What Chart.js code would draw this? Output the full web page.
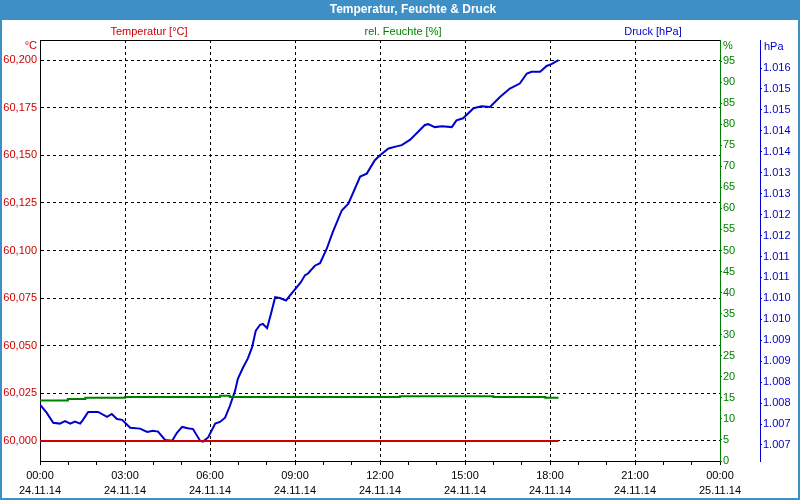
<!DOCTYPE html>
<html>
<head>
<meta charset="utf-8">
<script src="https://cdn.jsdelivr.net/npm/chart.js@4/dist/chart.umd.min.js"></script>
<style>
  html, body { margin: 0; padding: 0; background: #fff; }
  #wrap { width: 800px; height: 500px; position: relative; }
</style>
</head>
<body>
<div id="wrap"><canvas id="chart" width="800" height="500"></canvas></div>
<script>
// x-Achse (Beschriftung alle 3 Stunden)
const xTickTimes = ['00:00', '03:00', '06:00', '09:00', '12:00', '15:00', '18:00', '21:00', '00:00'];
const xTickDates = ['24.11.14', '24.11.14', '24.11.14', '24.11.14', '24.11.14', '24.11.14', '24.11.14', '24.11.14', '25.11.14'];

// Achsen-Ticks
const tempTicks = [60.000, 60.025, 60.050, 60.075, 60.100, 60.125, 60.150, 60.175, 60.200];
const humTicks = [0, 5, 10, 15, 20, 25, 30, 35, 40, 45, 50, 55, 60, 65, 70, 75, 80, 85, 90, 95];
const presTicks = [1006.75, 1007.25, 1007.75, 1008.25, 1008.75, 1009.25, 1009.75, 1010.25, 1010.75,
  1011.25, 1011.75, 1012.25, 1012.75, 1013.25, 1013.75, 1014.25, 1014.75, 1015.25, 1015.75];

// Temperatur [°C]
const tempTimes = ['00:00', '18:18'];
const tempValues = [60.000, 60.000];

// rel. Feuchte [%]
const humTimes = ['00:00', '00:59', '01:36', '03:00', '06:21', '06:42', '12:42', '16:00', '17:50', '18:18'];
const humValues = [14.4, 14.7, 15.0, 15.2, 15.5, 15.2, 15.4, 15.2, 15.0, 15.0];

// Druck [hPa]
const presTimes = ['00:00', '00:14', '00:28', '00:42', '00:53', '01:04', '01:14', '01:25', '01:31', '01:42',
  '02:03', '02:22', '02:32', '02:43', '02:54', '03:11', '03:32', '03:47', '03:59', '04:10',
  '04:25', '04:40', '04:50', '05:01', '05:13', '05:24', '05:39', '05:45', '05:56', '06:11',
  '06:21', '06:32', '06:42', '06:53', '06:59', '07:10', '07:20', '07:29', '07:37', '07:46',
  '07:52', '08:01', '08:09', '08:18', '08:28', '08:41', '08:53', '09:12', '09:21', '09:28',
  '09:42', '09:53', '10:07', '10:20', '10:39', '10:53', '11:18', '11:32', '11:49', '12:00',
  '12:18', '12:35', '12:46', '13:04', '13:35', '13:42', '13:56', '14:11', '14:32', '14:42',
  '14:56', '15:18', '15:35', '15:53', '16:14', '16:35', '16:56', '17:11', '17:21', '17:39',
  '17:53', '18:04', '18:18'];
const presValues = [1007.71, 1007.52, 1007.28, 1007.26, 1007.32, 1007.26, 1007.31, 1007.26, 1007.35, 1007.54,
  1007.54, 1007.42, 1007.49, 1007.37, 1007.35, 1007.16, 1007.14, 1007.06, 1007.09, 1007.07,
  1006.87, 1006.85, 1007.04, 1007.18, 1007.15, 1007.13, 1006.85, 1006.83, 1006.93, 1007.26,
  1007.30, 1007.40, 1007.68, 1008.04, 1008.33, 1008.60, 1008.81, 1009.08, 1009.48, 1009.62,
  1009.64, 1009.54, 1009.88, 1010.28, 1010.26, 1010.20, 1010.37, 1010.63, 1010.80, 1010.85,
  1011.03, 1011.09, 1011.43, 1011.83, 1012.35, 1012.51, 1013.16, 1013.23, 1013.55, 1013.67,
  1013.83, 1013.88, 1013.91, 1014.04, 1014.39, 1014.41, 1014.34, 1014.36, 1014.34, 1014.50,
  1014.55, 1014.79, 1014.84, 1014.82, 1015.06, 1015.26, 1015.38, 1015.62, 1015.66, 1015.66,
  1015.80, 1015.85, 1015.94];

const RED = '#cc0000', GREEN = '#008000', BLUE = '#0000cc', BAR = '#3d8fc6';
const FONT = 'Liberation Sans';

function toHours(t) {
  const [h, m] = t.split(':').map(Number);
  return h + m / 60;
}
function points(times, values) {
  return times.map((t, i) => ({ x: toHours(t), y: values[i] }));
}

Chart.defaults.font.family = FONT;
Chart.defaults.font.size = 11;

// Rahmen, Titelleiste und Beschriftungen
const decor = {
  id: 'decor',
  beforeDraw(chart) {
    const c = chart.ctx;
    c.save();
    c.fillStyle = '#fff';
    c.fillRect(0, 0, 800, 500);
    c.fillStyle = BAR;
    c.fillRect(0, 0, 800, 20);
    c.fillRect(0, 0, 2, 500);
    c.fillRect(798, 0, 2, 500);
    c.fillRect(0, 498, 800, 2);
    c.textBaseline = 'middle';
    c.textAlign = 'center';
    c.fillStyle = '#fff';
    c.font = 'bold 12px ' + FONT;
    c.fillText('Temperatur, Feuchte & Druck', 413, 10);
    c.font = '11px ' + FONT;
    c.fillStyle = RED;
    c.fillText('Temperatur [°C]', 149, 32);
    c.fillStyle = GREEN;
    c.fillText('rel. Feuchte [%]', 403, 32);
    c.fillStyle = BLUE;
    c.fillText('Druck [hPa]', 653, 32);
    c.textAlign = 'right';
    c.fillStyle = RED;
    c.fillText('°C', 37, 46);
    c.textAlign = 'left';
    c.fillStyle = GREEN;
    c.fillText('%', 723, 46);
    c.fillStyle = BLUE;
    c.fillText('hPa', 764, 47);
    c.restore();
  },
  afterDraw(chart) {
    const a = chart.chartArea, c = chart.ctx;
    c.save();
    c.strokeStyle = '#000';
    c.lineWidth = 1;
    c.beginPath();
    c.moveTo(a.left, a.top + 0.5);
    c.lineTo(a.right, a.top + 0.5);
    c.stroke();
    c.restore();
  }
};

new Chart(document.getElementById('chart'), {
  type: 'line',
  data: {
    datasets: [
      {
        label: 'Temperatur [°C]',
        data: points(tempTimes, tempValues),
        borderColor: RED,
        backgroundColor: RED,
        borderWidth: 2,
        pointRadius: 0,
        yAxisID: 'yT'
      },
      {
        label: 'rel. Feuchte [%]',
        data: points(humTimes, humValues),
        borderColor: GREEN,
        backgroundColor: GREEN,
        borderWidth: 2,
        pointRadius: 0,
        stepped: true,
        yAxisID: 'yH'
      },
      {
        label: 'Druck [hPa]',
        data: points(presTimes, presValues),
        borderColor: BLUE,
        backgroundColor: BLUE,
        borderWidth: 2,
        pointRadius: 0,
        tension: 0,
        yAxisID: 'yP'
      }
    ]
  },
  options: {
    responsive: false,
    animation: false,
    layout: { padding: { top: 40, left: 0, right: 0, bottom: 0 } },
    plugins: {
      legend: { display: false },
      title: { display: false },
      tooltip: { enabled: false }
    },
    scales: {
      x: {
        type: 'linear',
        position: 'bottom',
        min: 0,
        max: 24,
        afterFit: s => { s.height = 39; },
        ticks: {
          stepSize: 1,
          autoSkip: false,
          maxRotation: 0,
          color: '#000',
          padding: 3,
          font: { lineHeight: 15 / 11 },
          callback: v => (v % 3 === 0 ? [xTickTimes[v / 3], xTickDates[v / 3]] : '')
        },
        grid: {
          color: c => (c.tick && c.tick.value % 3 === 0 && c.tick.value > 0 && c.tick.value < 24 ? '#000' : 'rgba(0,0,0,0)'),
          tickColor: '#000',
          tickLength: 4,
          lineWidth: 1
        },
        border: { color: '#000', width: 1, dash: [3, 3] }
      },
      yT: {
        type: 'linear',
        position: 'left',
        min: 59.9895,
        max: 60.2105,
        afterFit: s => { s.width = 40; },
        afterBuildTicks: s => { s.ticks = tempTicks.map(v => ({ value: v })); },
        ticks: {
          color: RED,
          padding: 3,
          callback: v => v.toFixed(3).replace('.', ',')
        },
        grid: { color: '#000', drawTicks: false, lineWidth: 1 },
        border: { color: '#000', width: 1, dash: [3, 3] }
      },
      yH: {
        type: 'linear',
        position: 'right',
        min: 0,
        max: 100,
        afterFit: s => { s.width = 40; },
        afterBuildTicks: s => { s.ticks = humTicks.map(v => ({ value: v })); },
        ticks: { color: GREEN, padding: 1, callback: v => String(v) },
        grid: { drawOnChartArea: false, tickLength: 2, tickColor: GREEN },
        border: { color: GREEN, width: 1 }
      },
      yP: {
        type: 'linear',
        position: 'right',
        min: 1006.367,
        max: 1016.42,
        afterFit: s => { s.width = 40; },
        afterBuildTicks: s => { s.ticks = presTicks.map(v => ({ value: v })); },
        ticks: {
          color: BLUE,
          padding: 1,
          callback: v => { const s = String(Math.round(v)); return s[0] + '.' + s.slice(1); }
        },
        grid: { drawOnChartArea: false, tickLength: 2, tickColor: BLUE },
        border: { color: BLUE, width: 1 }
      }
    }
  },
  plugins: [decor]
});
</script>
</body>
</html>
